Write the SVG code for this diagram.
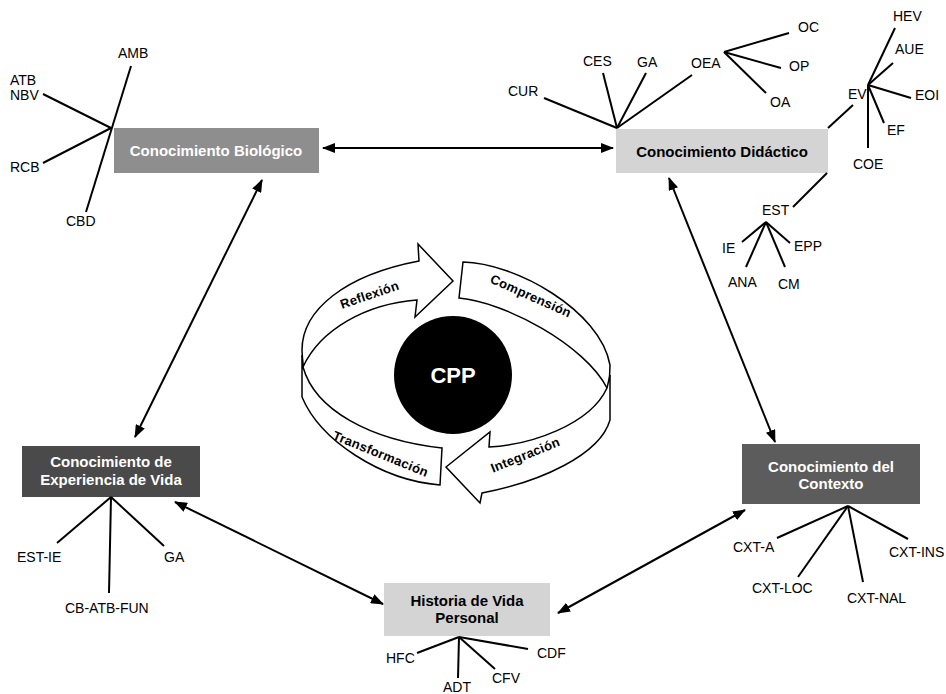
<svg xmlns="http://www.w3.org/2000/svg" width="946" height="694" viewBox="0 0 946 694">
<style>
.bg{fill:#ffffff}
.lbl{font-family:"Liberation Sans",Arial,sans-serif;font-size:14px;fill:#000}
.bt{font-family:"Liberation Sans",Arial,sans-serif;font-size:15px;font-weight:bold;text-anchor:middle}
.w{fill:#ffffff}
.k{fill:#000000}
.sp{stroke:#000;stroke-width:2;fill:none}
.con{stroke:#000;stroke-width:2;fill:none;marker-start:url(#ah);marker-end:url(#ah)}
.ring{fill:#fff;stroke:#000;stroke-width:1.5;stroke-linejoin:miter}
.rt{font-family:"Liberation Sans",Arial,sans-serif;font-size:13px;font-weight:bold;text-anchor:middle;fill:#000;letter-spacing:0.3px}
</style>
<defs>
<marker id="ah" viewBox="0 0 13 10" refX="12" refY="5" markerWidth="13" markerHeight="10" markerUnits="userSpaceOnUse" orient="auto-start-reverse">
<path d="M0,0 L13,5 L0,10 z" fill="#000"/>
</marker>
</defs>
<rect class="bg" x="0" y="0" width="946" height="694"/>

<g id="connectors">
<line class="con" x1="323" y1="148" x2="613" y2="148"/>
<line class="con" x1="262" y1="180" x2="135" y2="437"/>
<line class="con" x1="669" y1="178" x2="775" y2="442"/>
<line class="con" x1="175" y1="502" x2="383" y2="604"/>
<line class="con" x1="745" y1="510" x2="558" y2="613"/>
</g>

<g id="n-biologico">
<rect x="114" y="128" width="205" height="45" fill="#8e8e8e"/>
<text class="bt w" x="216" y="156">Conocimiento Biológico</text>
<line class="sp" x1="131" y1="66" x2="86" y2="212"/>
<line class="sp" x1="43" y1="94" x2="111" y2="128"/>
<line class="sp" x1="43" y1="163" x2="111" y2="128"/>
<text class="lbl" x="118" y="58">AMB</text>
<text class="lbl" x="10" y="85">ATB</text>
<text class="lbl" x="10" y="100">NBV</text>
<text class="lbl" x="10" y="172">RCB</text>
<text class="lbl" x="66" y="226">CBD</text>
</g>

<g id="n-didactico">
<rect x="616" y="129" width="212" height="44" fill="#d4d4d4"/>
<text class="bt k" x="722" y="157">Conocimiento Didáctico</text>
<line class="sp" x1="617" y1="128" x2="544" y2="98"/>
<line class="sp" x1="617" y1="128" x2="603" y2="73"/>
<line class="sp" x1="617" y1="128" x2="646" y2="73"/>
<line class="sp" x1="617" y1="128" x2="692" y2="75"/>
<line class="sp" x1="724" y1="52" x2="789" y2="33"/>
<line class="sp" x1="724" y1="52" x2="781" y2="68"/>
<line class="sp" x1="724" y1="52" x2="766" y2="93"/>
<line class="sp" x1="828" y1="128" x2="853" y2="105"/>
<line class="sp" x1="868" y1="85" x2="895" y2="28"/>
<line class="sp" x1="868" y1="85" x2="893" y2="63"/>
<line class="sp" x1="868" y1="85" x2="911" y2="98"/>
<line class="sp" x1="868" y1="85" x2="884" y2="123"/>
<line class="sp" x1="868" y1="85" x2="868" y2="148"/>
<line class="sp" x1="827" y1="173" x2="793" y2="207"/>
<line class="sp" x1="766" y1="222" x2="742" y2="242"/>
<line class="sp" x1="766" y1="222" x2="746" y2="267"/>
<line class="sp" x1="766" y1="222" x2="785" y2="267"/>
<line class="sp" x1="766" y1="222" x2="790" y2="243"/>
<text class="lbl" x="508" y="96">CUR</text>
<text class="lbl" x="583" y="66">CES</text>
<text class="lbl" x="637" y="67">GA</text>
<text class="lbl" x="691" y="68">OEA</text>
<text class="lbl" x="798" y="32">OC</text>
<text class="lbl" x="789" y="71">OP</text>
<text class="lbl" x="770" y="107">OA</text>
<text class="lbl" x="893" y="21">HEV</text>
<text class="lbl" x="895" y="54">AUE</text>
<text class="lbl" x="848" y="99">EV</text>
<text class="lbl" x="915" y="100">EOI</text>
<text class="lbl" x="887" y="135">EF</text>
<text class="lbl" x="853" y="169">COE</text>
<text class="lbl" x="762" y="215">EST</text>
<text class="lbl" x="722" y="253">IE</text>
<text class="lbl" x="794" y="251">EPP</text>
<text class="lbl" x="728" y="287">ANA</text>
<text class="lbl" x="778" y="289">CM</text>
</g>

<g id="n-experiencia">
<rect x="22" y="446" width="178" height="51" fill="#4a4a4a"/>
<text class="bt w" x="111" y="467">Conocimiento de</text>
<text class="bt w" x="111" y="485">Experiencia de Vida</text>
<line class="sp" x1="111" y1="497" x2="57" y2="543"/>
<line class="sp" x1="111" y1="497" x2="109" y2="593"/>
<line class="sp" x1="111" y1="497" x2="164" y2="546"/>
<text class="lbl" x="17" y="562">EST-IE</text>
<text class="lbl" x="164" y="562">GA</text>
<text class="lbl" x="65" y="613">CB-ATB-FUN</text>
</g>

<g id="n-historia">
<rect x="384" y="583" width="166" height="53" fill="#d4d4d4"/>
<text class="bt k" x="467" y="606">Historia de Vida</text>
<text class="bt k" x="467" y="623">Personal</text>
<line class="sp" x1="459" y1="637" x2="417" y2="653"/>
<line class="sp" x1="459" y1="637" x2="458" y2="678"/>
<line class="sp" x1="459" y1="637" x2="495" y2="669"/>
<line class="sp" x1="459" y1="637" x2="528" y2="649"/>
<text class="lbl" x="386" y="663">HFC</text>
<text class="lbl" x="443" y="692">ADT</text>
<text class="lbl" x="492" y="683">CFV</text>
<text class="lbl" x="537" y="658">CDF</text>
</g>

<g id="n-contexto">
<rect x="742" y="444" width="178" height="60" fill="#5c5c5c"/>
<text class="bt w" x="831" y="472">Conocimiento del</text>
<text class="bt w" x="831" y="489">Contexto</text>
<line class="sp" x1="848" y1="506" x2="777" y2="538"/>
<line class="sp" x1="848" y1="506" x2="798" y2="577"/>
<line class="sp" x1="848" y1="506" x2="863" y2="582"/>
<line class="sp" x1="848" y1="506" x2="908" y2="539"/>
<text class="lbl" x="733" y="552">CXT-A</text>
<text class="lbl" x="752" y="593">CXT-LOC</text>
<text class="lbl" x="847" y="603">CXT-NAL</text>
<text class="lbl" x="889" y="557">CXT-INS</text>
</g>

<g id="n-ciclo">
<path class="ring" d="M303,367 C320,330 365,304 417,300 L415,317 L453,281 L418,244 L419,261 C345,275 302,310 302,350 Z"/>
<path class="ring" d="M459,298 L463,262 C515,263 600,310 610,365 L609,390 L607,388 C585,345 505,302 459,298 Z"/>
<path class="ring" d="M446,467 L490,432 L489,447 C530,445 590,425 607,388 L610,375 L610,420 C600,455 540,482 482,493 L480,503 Z"/>
<path class="ring" d="M303,367 C315,410 370,440 442,448 L440,485 C380,480 320,440 302,397 L302,355 Z"/>
<text class="rt" transform="translate(371,299) rotate(-19)">Reflexión</text>
<text class="rt" transform="translate(529,300) rotate(24)">Comprensión</text>
<text class="rt" transform="translate(379,458) rotate(22)">Transformación</text>
<text class="rt" transform="translate(527,459) rotate(-22)">Integración</text>
</g>

<g id="n-cpp">
<circle cx="453" cy="375" r="59" fill="#000"/>
<text x="453" y="383" font-family="Liberation Sans, Arial, sans-serif" font-size="22" font-weight="bold" fill="#fff" text-anchor="middle">CPP</text>
</g>
</svg>
